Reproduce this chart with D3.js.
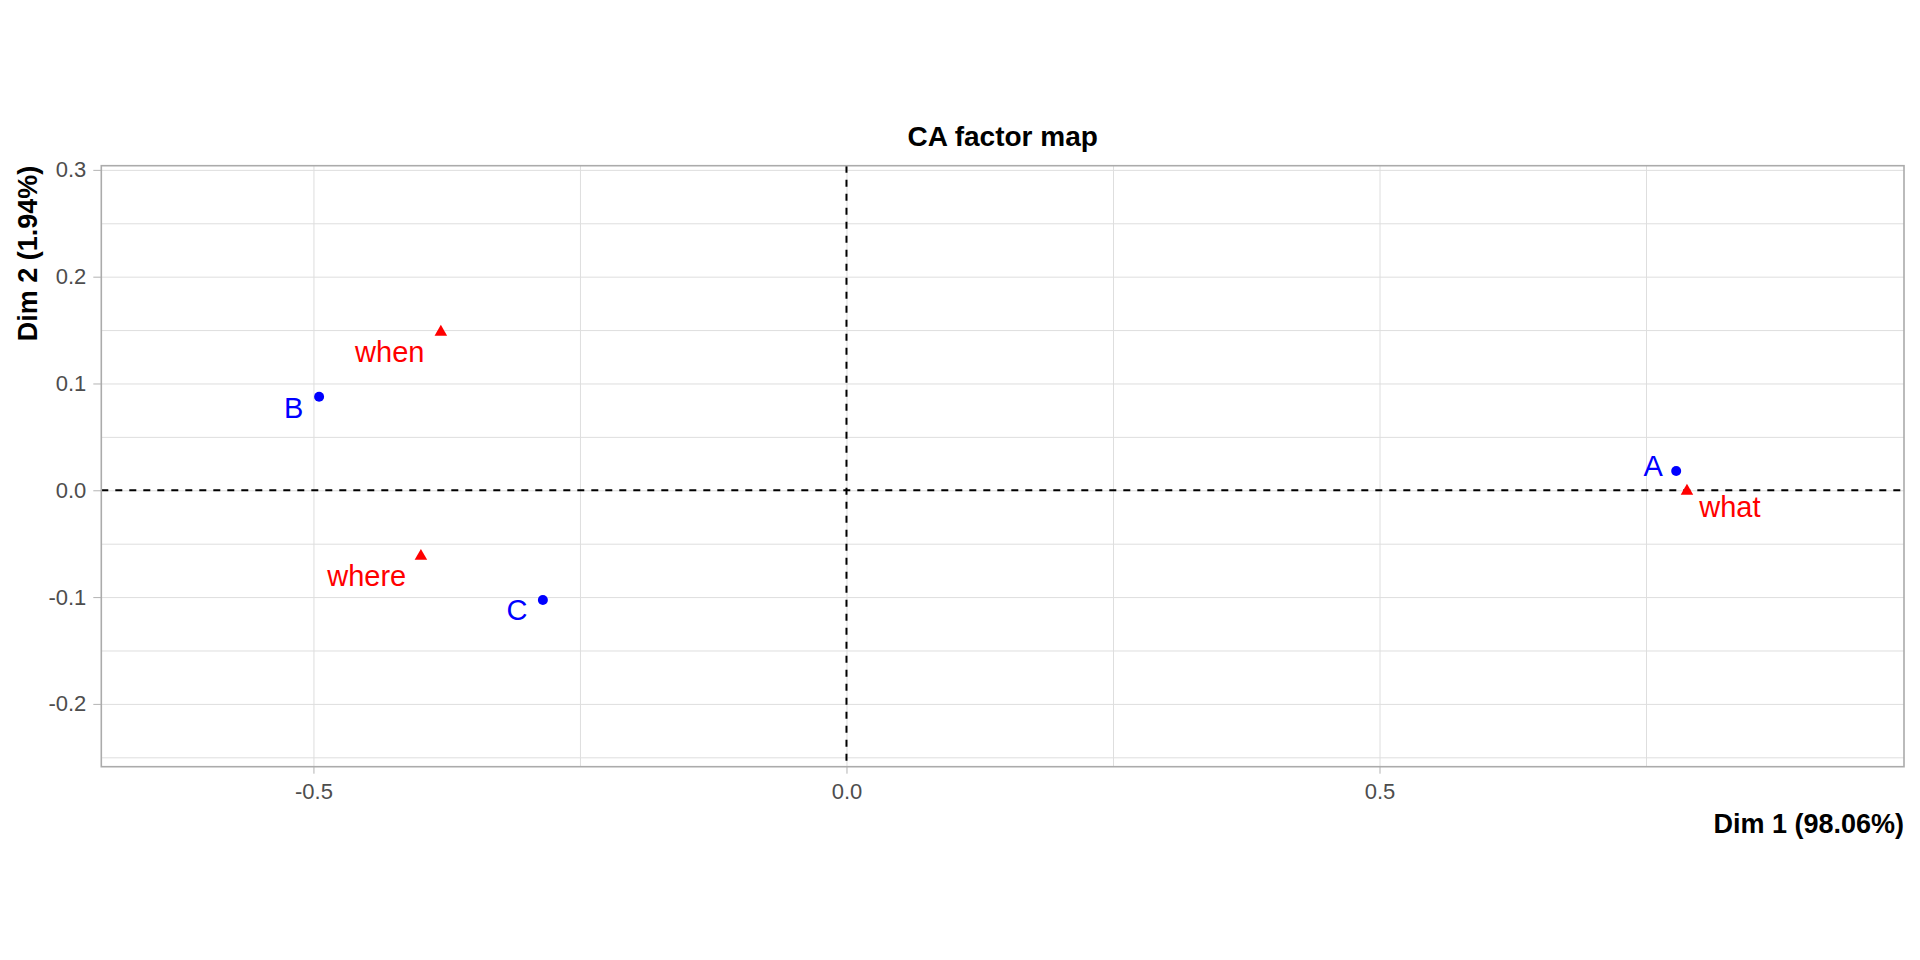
<!DOCTYPE html>
<html>
<head>
<meta charset="utf-8">
<script src="https://cdn.jsdelivr.net/npm/d3@7"></script>
<style>
  html, body { margin: 0; padding: 0; background: #ffffff; }
  svg { display: block; font-family: "Liberation Sans", Arial, sans-serif; }
</style>
</head>
<body>
<svg id="chart" width="1920" height="960"></svg>
<script>
// ---- data ----
const rowNames = ["A", "B", "C"];
const rowDim1 = [0.7783, -0.4947, -0.2848];
const rowDim2 = [0.0181, 0.0876, -0.1027];

const colNames = ["what", "when", "where"];
const colDim1 = [0.7884, -0.3805, -0.3992];
const colDim2 = [-0.0007, 0.1481, -0.0617];

const xTickValues = [-0.5, 0.0, 0.5];
const yTickValues = [-0.2, -0.1, 0.0, 0.1, 0.2, 0.3];
const xGridValues = [-0.5, -0.25, 0.0, 0.25, 0.5, 0.75];
const yGridValues = [-0.25, -0.2, -0.15, -0.1, -0.05, 0.0, 0.05, 0.1, 0.15, 0.2, 0.25, 0.3];

const titleText = "CA factor map";
const xTitle = "Dim 1 (98.06%)";
const yTitle = "Dim 2 (1.94%)";

// ---- layout (styling, not data) ----
const panel = { left: 101.3, right: 1904, top: 165.7, bottom: 766.7 };
const xDomain = [-0.699, 0.992];
const yDomain = [-0.2588, 0.3039];

// label placement offsets (px) relative to each point, as placed by the original repel layout
const rowLabelOffsets = { A: [-13.3, 4.7, "end"], B: [-15.7, 21, "end"], C: [-15.4, 20, "end"] };
const colLabelOffsets = { what: [12.3, 25.7, "start"], when: [-16.4, 29.6, "end"], where: [-14.7, 29.5, "end"] };

const rows = rowNames.map((n, i) => ({ name: n, x: rowDim1[i], y: rowDim2[i] }));
const cols = colNames.map((n, i) => ({ name: n, x: colDim1[i], y: colDim2[i] }));

const svg = d3.select("#chart");
const x = d3.scaleLinear().domain(xDomain).range([panel.left, panel.right]);
const y = d3.scaleLinear().domain(yDomain).range([panel.bottom, panel.top]);
const W = panel.right - panel.left, H = panel.bottom - panel.top;
const fmt = d => d.toFixed(1);

// grid lines
const gx = svg.append("g").attr("transform", `translate(0,${panel.bottom})`)
  .call(d3.axisBottom(x).tickValues(xGridValues).tickSize(-H).tickFormat(""));
gx.select(".domain").remove();
gx.selectAll("line").attr("stroke", "#DEDEDE").attr("stroke-width", 1);

const gy = svg.append("g").attr("transform", `translate(${panel.left},0)`)
  .call(d3.axisLeft(y).tickValues(yGridValues).tickSize(-W).tickFormat(""));
gy.select(".domain").remove();
gy.selectAll("line").attr("stroke", "#DEDEDE").attr("stroke-width", 1);

// dashed reference lines at 0
svg.append("line")
  .attr("x1", panel.left).attr("x2", panel.right)
  .attr("y1", y(0)).attr("y2", y(0))
  .attr("stroke", "#000").attr("stroke-width", 2).attr("stroke-dasharray", "7,7");
svg.append("line")
  .attr("x1", x(0)).attr("x2", x(0))
  .attr("y1", panel.top).attr("y2", panel.bottom)
  .attr("stroke", "#000").attr("stroke-width", 2).attr("stroke-dasharray", "7,7");

// axes with ticks and labels
const ax = svg.append("g").attr("transform", `translate(0,${panel.bottom})`)
  .call(d3.axisBottom(x).tickValues(xTickValues).tickSize(7).tickPadding(10).tickFormat(fmt));
ax.select(".domain").remove();
ax.selectAll("line").attr("stroke", "#B3B3B3").attr("stroke-width", 1);
ax.selectAll("text").attr("fill", "#4D4D4D").attr("font-size", 22)
  .attr("font-family", "'Liberation Sans', Arial, sans-serif");

const ay = svg.append("g").attr("transform", `translate(${panel.left},0)`)
  .call(d3.axisLeft(y).tickValues(yTickValues).tickSize(8).tickPadding(7).tickFormat(fmt));
ay.select(".domain").remove();
ay.selectAll("line").attr("stroke", "#B3B3B3").attr("stroke-width", 1);
ay.selectAll("text").attr("fill", "#4D4D4D").attr("font-size", 22)
  .attr("font-family", "'Liberation Sans', Arial, sans-serif");

// row points (blue circles)
svg.append("g").selectAll("circle").data(rows).join("circle")
  .attr("cx", d => x(d.x)).attr("cy", d => y(d.y)).attr("r", 5)
  .attr("fill", "#0000FF");

// column points (red triangles)
svg.append("g").selectAll("path").data(cols).join("path")
  .attr("d", d3.symbol().type(d3.symbolTriangle).size(68))
  .attr("transform", d => `translate(${x(d.x)},${y(d.y)})`)
  .attr("fill", "#FF0000");

// labels
svg.append("g").selectAll("text").data(rows).join("text")
  .attr("x", d => x(d.x) + rowLabelOffsets[d.name][0])
  .attr("y", d => y(d.y) + rowLabelOffsets[d.name][1])
  .attr("text-anchor", d => rowLabelOffsets[d.name][2])
  .attr("font-size", 29).attr("fill", "#0000FF")
  .text(d => d.name);

svg.append("g").selectAll("text").data(cols).join("text")
  .attr("x", d => x(d.x) + colLabelOffsets[d.name][0])
  .attr("y", d => y(d.y) + colLabelOffsets[d.name][1])
  .attr("text-anchor", d => colLabelOffsets[d.name][2])
  .attr("font-size", 29).attr("fill", "#FF0000")
  .text(d => d.name);

// panel border
svg.append("rect")
  .attr("x", panel.left).attr("y", panel.top)
  .attr("width", W).attr("height", H)
  .attr("fill", "none").attr("stroke", "#ABABAB").attr("stroke-width", 1.6);

// titles
svg.append("text")
  .attr("x", (panel.left + panel.right) / 2).attr("y", 145.7)
  .attr("text-anchor", "middle").attr("font-size", 28).attr("font-weight", "bold")
  .attr("fill", "#000").text(titleText);

svg.append("text")
  .attr("x", panel.right).attr("y", 833)
  .attr("text-anchor", "end").attr("font-size", 27).attr("font-weight", "bold")
  .attr("fill", "#000").text(xTitle);

svg.append("text")
  .attr("transform", `translate(37,${panel.top}) rotate(-90)`)
  .attr("text-anchor", "end").attr("font-size", 27).attr("font-weight", "bold")
  .attr("fill", "#000").text(yTitle);
</script>
</body>
</html>
